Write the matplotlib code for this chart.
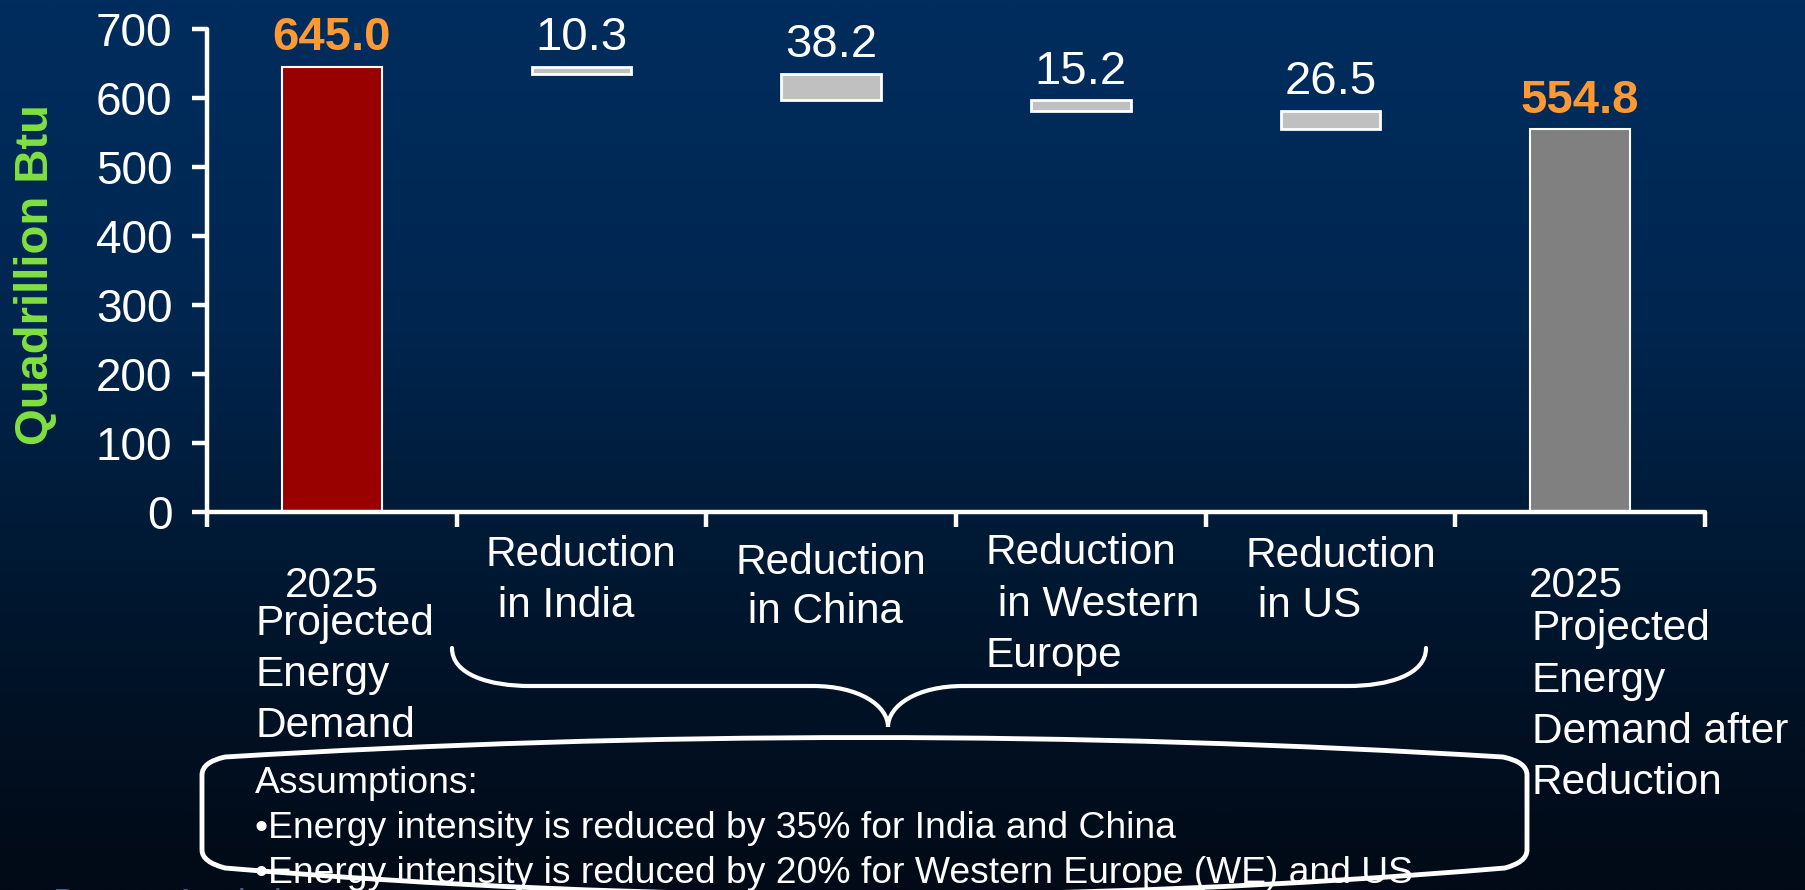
import numpy as np
import matplotlib.pyplot as plt
from matplotlib.path import Path
from matplotlib.patches import PathPatch
from matplotlib.colors import LinearSegmentedColormap

plt.rcParams["font.family"] = ["Liberation Sans", "DejaVu Sans"]

# energy demand waterfall (quadrillion Btu)
start_total = 645.0
reductions = [10.3, 38.2, 15.2, 26.5]
final_total = 554.8
yticks = [0, 100, 200, 300, 400, 500, 600, 700]

category_lines = [
    ["2025", "Projected", "Energy", "Demand"],
    ["Reduction", " in India"],
    ["Reduction", " in China"],
    ["Reduction", " in Western", "Europe"],
    ["Reduction", " in US"],
    ["2025", "Projected", "Energy", "Demand after", "Reduction"],
]
assumptions = [
    "Assumptions:",
    "\u2022Energy intensity is reduced by 35% for India and China",
    "\u2022Energy intensity is reduced by 20% for Western Europe (WE) and US",
]

W, H = 1806, 890
fig = plt.figure(figsize=(W / 100, H / 100), dpi=100)


def fx(px):
    return px / W


def fy(py):
    return 1 - py / H


# navy-to-black backdrop, first row drawn at the top
bg = fig.add_axes([0, 0, 1, 1], zorder=-10)
bg.axis("off")
cmap = LinearSegmentedColormap.from_list(
    "slide",
    [(0.0, "#002d5e"), (0.35, "#002650"), (0.6, "#001a36"),
     (0.8, "#011124"), (1.0, "#010a16")],
)
bg.imshow(np.linspace(0, 1, 400).reshape(-1, 1), cmap=cmap, aspect="auto",
          extent=[0, 1, 0, 1], vmin=0, vmax=1)

ax = fig.add_axes([fx(207), fy(512), fx(1705) - fx(207), fy(29) - fy(512)])
ax.patch.set_alpha(0)

x = np.arange(6) + 0.5
width = 0.40
running = start_total - np.cumsum(reductions)

ax.bar(x[0], start_total, width, color="#990000", edgecolor="white", linewidth=1.5)
ax.bar(x[1:5], reductions, width, bottom=running, color="#c0c0c0",
       edgecolor="white", linewidth=2)
ax.bar(x[5], final_total, width, color="#808080", edgecolor="white", linewidth=1.5)

orange = "#ff9933"
ax.annotate(f"{start_total:.1f}", (x[0], start_total), xytext=(0, 12),
            textcoords="offset points", ha="center", va="baseline",
            fontsize=34, fontweight="bold", color=orange)
for xi, r, b in zip(x[1:5], reductions, running):
    ax.annotate(f"{r:.1f}", (xi, b + r), xytext=(0, 12),
                textcoords="offset points", ha="center", va="baseline",
                fontsize=34, color="white")
ax.annotate(f"{final_total:.1f}", (x[5], final_total), xytext=(0, 12),
            textcoords="offset points", ha="center", va="baseline",
            fontsize=34, fontweight="bold", color=orange)

ax.set_xlim(0, 6)
ax.set_ylim(0, 700)
ax.set_yticks(yticks)
ax.set_xticks(np.arange(7))
ax.set_xticklabels([])
for side in ("top", "right"):
    ax.spines[side].set_visible(False)
for side in ("left", "bottom"):
    ax.spines[side].set_color("white")
    ax.spines[side].set_linewidth(3.2)
    ax.spines[side].set_capstyle("round")
ax.tick_params(axis="both", direction="out", length=11, width=3.2, color="white")
ax.tick_params(axis="y", labelsize=33, labelcolor="white", pad=14)

fig.text(fx(36), fy(275), "Quadrillion Btu", rotation=90, ha="center",
         va="center", fontsize=34, fontweight="bold", color="#80e040")

# category labels below the axis (left edge / baseline in pixels)
label_pos = [
    [(332, 597, "center"), (256, 635, "left"), (256, 686, "left"), (256, 737, "left")],
    [(486, 566, "left"), (486, 617, "left")],
    [(736, 574, "left"), (736, 623, "left")],
    [(986, 564, "left"), (986, 616, "left"), (986, 667, "left")],
    [(1246, 567, "left"), (1246, 617, "left")],
    [(1529, 597, "left"), (1532, 640, "left"), (1532, 692, "left"),
     (1532, 743, "left"), (1532, 794, "left")],
]
for lines, pos in zip(category_lines, label_pos):
    for text, (px, py, ha) in zip(lines, pos):
        fig.text(fx(px), fy(py), text, ha=ha, va="baseline", fontsize=30.5,
                 color="white")


def to_fig(pts):
    return [(fx(px), fy(py)) for px, py in pts]


# curly brace grouping the four reductions
brace_pts = [
    (452, 648), (452, 675), (490, 686), (530, 686),
    (813, 686),
    (858, 686), (888, 705), (888, 727),
    (888, 705), (918, 686), (963, 686),
    (1348, 686),
    (1388, 686), (1426, 675), (1426, 648),
]
brace_codes = [Path.MOVETO, Path.CURVE4, Path.CURVE4, Path.CURVE4,
               Path.LINETO,
               Path.CURVE4, Path.CURVE4, Path.CURVE4,
               Path.CURVE4, Path.CURVE4, Path.CURVE4,
               Path.LINETO,
               Path.CURVE4, Path.CURVE4, Path.CURVE4]
fig.add_artist(PathPatch(Path(to_fig(brace_pts), brace_codes),
                         transform=fig.transFigure, facecolor="none",
                         edgecolor="white", linewidth=3, capstyle="round"))

# bulging callout box for the assumptions
box_pts = [
    (202, 850), (202, 775), (202, 762), (225, 757),
    (864, 718), (1503, 757),
    (1527, 762), (1527, 775),
    (1527, 850),
    (1527, 862), (1505, 868),
    (864, 922), (225, 868),
    (202, 862), (202, 850),
]
box_codes = [Path.MOVETO, Path.LINETO, Path.CURVE3, Path.CURVE3,
             Path.CURVE3, Path.CURVE3,
             Path.CURVE3, Path.CURVE3,
             Path.LINETO,
             Path.CURVE3, Path.CURVE3,
             Path.CURVE3, Path.CURVE3,
             Path.CURVE3, Path.CURVE3]
fig.add_artist(PathPatch(Path(to_fig(box_pts), box_codes),
                         transform=fig.transFigure, facecolor="none",
                         edgecolor="white", linewidth=3.5, zorder=1))

for i, line in enumerate(assumptions):
    fig.text(fx(255), fy(793 + 45 * i), line, ha="left", va="baseline",
             fontsize=26.8, color="white", zorder=2)

fig.text(fx(53), fy(915), "Boston Analytics", ha="left", va="baseline",
         fontsize=26, color="#4a5a78")

fig.savefig("out.png", dpi=100)
